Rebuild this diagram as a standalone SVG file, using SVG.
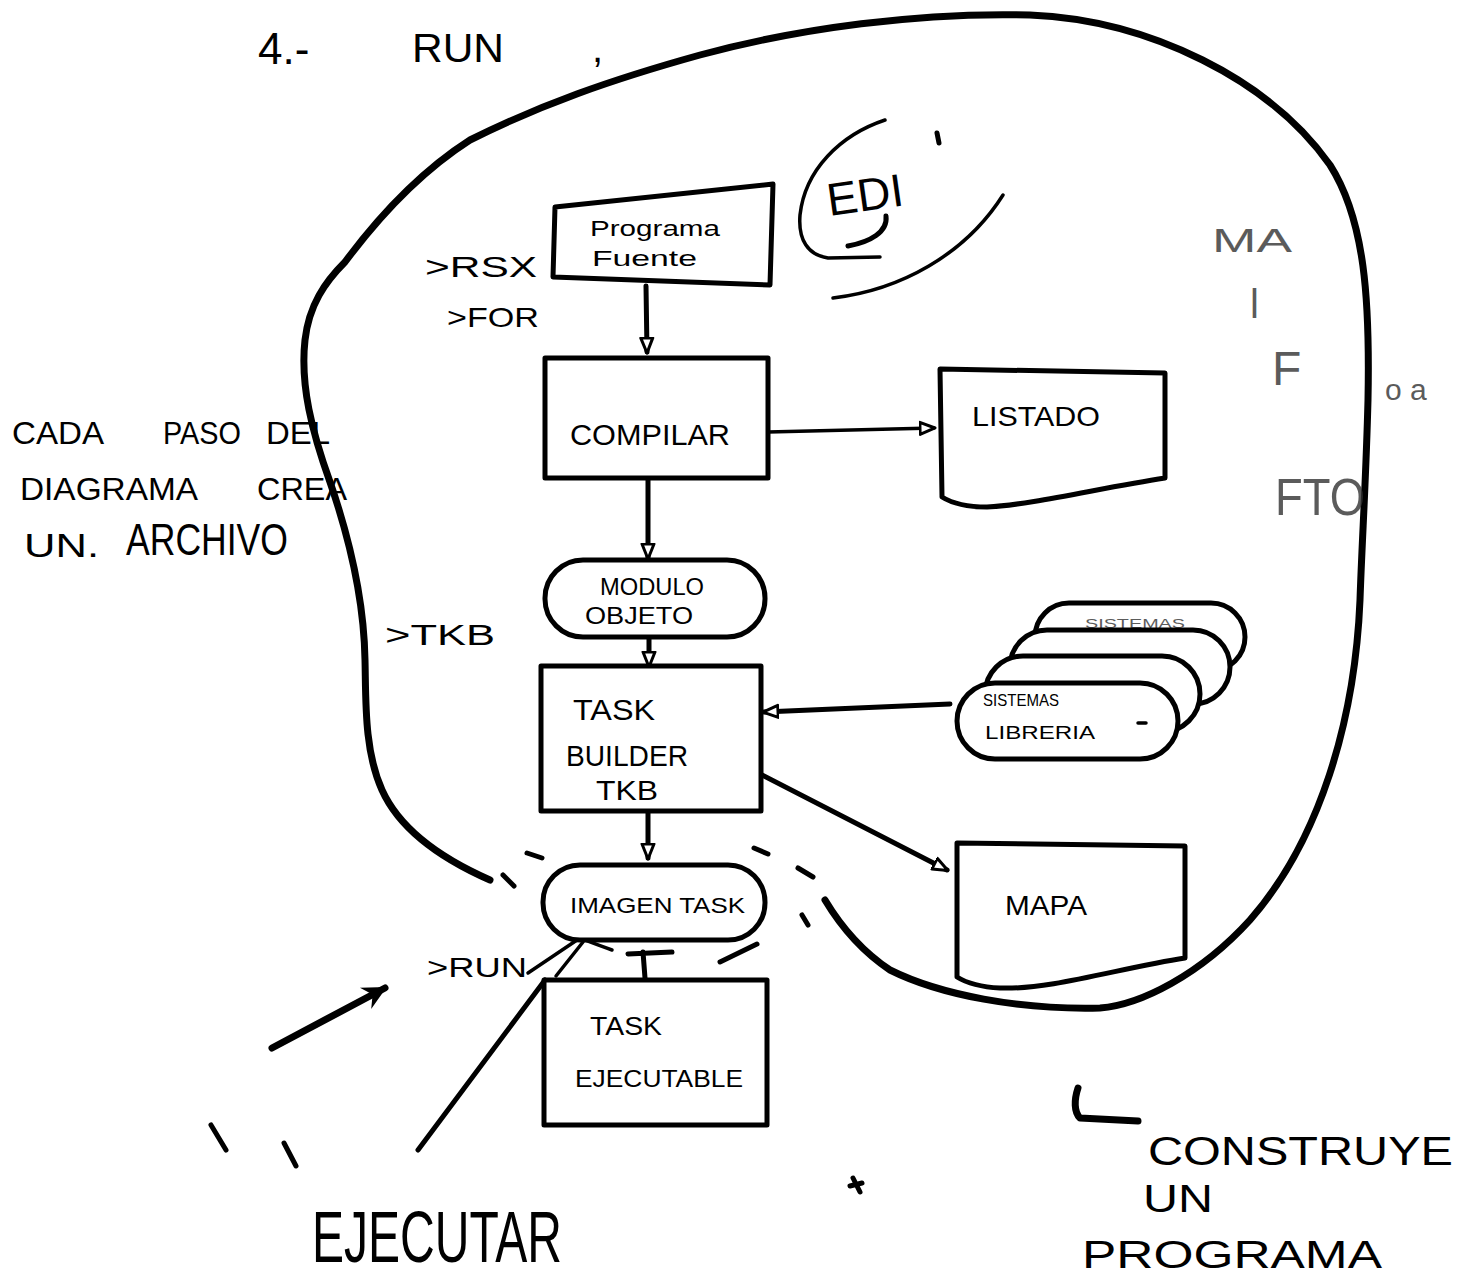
<svg xmlns="http://www.w3.org/2000/svg" width="1480" height="1282" viewBox="0 0 1480 1282">
  <style>
    .ln{fill:none;stroke:#000;stroke-width:5;stroke-linecap:round;stroke-linejoin:round}
    .thick{stroke-width:7}
    .thin{stroke-width:3.5}
    .box{fill:#fff;stroke:#000;stroke-width:5;stroke-linejoin:round}
    .t{font-family:"Liberation Sans",Arial,sans-serif;fill:#000}
    .faint{fill:#333;opacity:0.8}
  </style>
  <defs>
    <marker id="ah" markerUnits="userSpaceOnUse" markerWidth="18" markerHeight="16" refX="15" refY="8" orient="auto">
      <path d="M1,2 L16,8 L1,14 Z" fill="#fff" stroke="#000" stroke-width="3" stroke-linejoin="round"/>
    </marker>
    <marker id="ahf" markerUnits="userSpaceOnUse" markerWidth="30" markerHeight="28" refX="24" refY="14" orient="auto">
      <path d="M2,2 L26,14 L2,26 L10,14 Z" fill="#000"/>
    </marker>
  </defs>

  <!-- title -->
  <g id="title">
    <text class="t" x="258" y="64" font-size="44">4.-</text>
    <text class="t" x="412" y="62" font-size="40" textLength="92" lengthAdjust="spacingAndGlyphs">RUN</text>
    <text class="t" x="592" y="62" font-size="40">,</text>
  </g>

  <!-- big enclosing outline and the EDI ellipse -->
  <g id="outline">
    <path class="ln thick" d="M 490,880 C 440,858 400,830 382,790 C 364,750 366,700 365,660 C 364,600 350,540 330,482 C 312,432 300,385 305,340 C 309,305 325,282 345,262 C 380,215 420,172 470,140 C 540,105 610,80 700,55 C 800,28 920,12 1030,15 C 1150,20 1270,80 1330,165 C 1365,220 1370,300 1368,400 C 1366,480 1362,540 1360,600 C 1355,720 1320,840 1250,920 C 1200,975 1140,1005 1100,1008 C 1020,1010 940,995 890,970 C 860,950 840,925 825,900"/>
  </g>
  <g id="edi">
    <path class="ln thin" d="M 885,120 C 840,135 805,170 800,215 C 798,240 808,255 828,258 L 880,257"/>
    <path class="ln thin" d="M 833,298 C 900,290 965,255 1003,195"/>
    <path class="ln" d="M 937,133 L 939,143"/>
    <text class="t" x="826" y="210" font-size="46" transform="rotate(-8 870 190)">EDI</text>
    <path class="ln" d="M 848,246 C 870,242 888,232 886,216"/>
  </g>

  <!-- connectors -->
  <g id="connectors">
    <path class="ln" d="M 646,286 L 647,352" marker-end="url(#ah)"/>
    <path class="ln thin" d="M 768,432 L 934,428" marker-end="url(#ah)"/>
    <path class="ln" d="M 648,478 L 648,558" marker-end="url(#ah)"/>
    <path class="ln" d="M 649,638 L 649,666" marker-end="url(#ah)"/>
    <path class="ln" d="M 950,704 L 764,712" marker-end="url(#ah)"/>
    <path class="ln" d="M 762,775 L 947,870" marker-end="url(#ah)"/>
    <path class="ln" d="M 648,812 L 648,858" marker-end="url(#ah)"/>
    <path class="ln" d="M 645,978 L 643,952 M 628,954 L 672,952"/>
    <path class="ln thin" d="M 528,973 L 580,938 M 556,976 L 583,942"/>
    <path class="ln thin" d="M 577,937 C 590,942 600,946 612,950"/>
    <path class="ln" d="M 545,980 L 418,1150"/>
    <path class="ln thick" d="M 272,1048 L 385,988" marker-end="url(#ahf)"/>
    <!-- dashes around the task image -->
    <path class="ln" d="M 503,875 L 514,886"/>
    <path class="ln" d="M 527,853 L 542,858"/>
    <path class="ln" d="M 754,848 L 768,854"/>
    <path class="ln" d="M 798,868 L 813,877"/>
    <path class="ln" d="M 720,962 L 757,944"/>
    <path class="ln" d="M 802,915 L 808,925"/>
    <!-- ticks near the bottom -->
    <path class="ln" d="M 211,1125 L 226,1150"/>
    <path class="ln" d="M 284,1143 L 296,1166"/>
    <path class="ln" d="M 853,1178 L 860,1192 M 850,1186 L 862,1183"/>
    <path class="ln thick" d="M 1078,1088 C 1074,1100 1074,1112 1080,1118 L 1138,1121"/>
  </g>

  <!-- nodes -->
  <g id="n-fuente">
    <path class="box" d="M 555,207 L 773,184 L 770,285 L 553,277 Z"/>
    <text class="t" x="590" y="236" font-size="22" textLength="130" lengthAdjust="spacingAndGlyphs">Programa</text>
    <text class="t" x="592" y="266" font-size="22" textLength="105" lengthAdjust="spacingAndGlyphs">Fuente</text>
  </g>
  <g id="n-compilar">
    <rect class="box" x="545" y="358" width="223" height="120"/>
    <text class="t" x="570" y="445" font-size="30" textLength="160" lengthAdjust="spacingAndGlyphs">COMPILAR</text>
  </g>
  <g id="n-listado">
    <path class="box" d="M 940,369 L 1165,373 L 1165,478 C 1100,488 1030,505 987,507 C 965,507 950,502 942,497 Z"/>
    <text class="t" x="972" y="426" font-size="28" textLength="128" lengthAdjust="spacingAndGlyphs">LISTADO</text>
  </g>
  <g id="n-modulo">
    <rect class="box" x="545" y="560" width="220" height="77" rx="38"/>
    <text class="t" x="600" y="595" font-size="24" textLength="104" lengthAdjust="spacingAndGlyphs">MODULO</text>
    <text class="t" x="585" y="624" font-size="24" textLength="108" lengthAdjust="spacingAndGlyphs">OBJETO</text>
  </g>
  <g id="n-tkb">
    <rect class="box" x="541" y="666" width="220" height="145"/>
    <text class="t" x="573" y="720" font-size="30" textLength="82" lengthAdjust="spacingAndGlyphs">TASK</text>
    <text class="t" x="566" y="766" font-size="30" textLength="122" lengthAdjust="spacingAndGlyphs">BUILDER</text>
    <text class="t" x="596" y="800" font-size="28" textLength="62" lengthAdjust="spacingAndGlyphs">TKB</text>
  </g>
  <g id="n-librerias">
    <rect class="box" x="1035" y="603" width="210" height="68" rx="34"/>
    <text class="t faint" x="1085" y="628" font-size="12" textLength="100" lengthAdjust="spacingAndGlyphs">SISTEMAS</text>
    <rect class="box" x="1010" y="630" width="220" height="74" rx="37"/>
    <rect class="box" x="985" y="656" width="215" height="76" rx="38"/>
    <rect class="box" x="957" y="683" width="221" height="76" rx="38"/>
    <text class="t" x="983" y="706" font-size="17" textLength="76" lengthAdjust="spacingAndGlyphs">SISTEMAS</text>
    <text class="t" x="985" y="739" font-size="18" textLength="110" lengthAdjust="spacingAndGlyphs">LIBRERIA</text>
    <path class="ln thin" d="M 1138,723 L 1146,723"/>
  </g>
  <g id="n-mapa">
    <path class="box" d="M 957,843 L 1185,846 L 1185,958 C 1120,968 1050,990 1000,988 C 980,987 965,982 957,977 Z"/>
    <text class="t" x="1005" y="915" font-size="28" textLength="82" lengthAdjust="spacingAndGlyphs">MAPA</text>
  </g>
  <g id="n-imagen">
    <rect class="box" x="543" y="865" width="222" height="75" rx="37"/>
    <text class="t" x="570" y="913" font-size="22" textLength="175" lengthAdjust="spacingAndGlyphs">IMAGEN TASK</text>
  </g>
  <g id="n-ejecutable">
    <rect class="box" x="544" y="980" width="223" height="145"/>
    <text class="t" x="590" y="1035" font-size="26" textLength="72" lengthAdjust="spacingAndGlyphs">TASK</text>
    <text class="t" x="575" y="1087" font-size="24" textLength="168" lengthAdjust="spacingAndGlyphs">EJECUTABLE</text>
  </g>

  <!-- command labels -->
  <g id="commands">
    <text class="t" x="425" y="277" font-size="30" textLength="112" lengthAdjust="spacingAndGlyphs">&gt;RSX</text>
    <text class="t" x="447" y="327" font-size="28" textLength="92" lengthAdjust="spacingAndGlyphs">&gt;FOR</text>
    <text class="t" x="385" y="645" font-size="30" textLength="110" lengthAdjust="spacingAndGlyphs">&gt;TKB</text>
    <text class="t" x="427" y="977" font-size="28" textLength="100" lengthAdjust="spacingAndGlyphs">&gt;RUN</text>
  </g>

  <!-- notes -->
  <g id="notes">
    <text class="t" x="12" y="444" font-size="32" textLength="92" lengthAdjust="spacingAndGlyphs">CADA</text>
    <text class="t" x="163" y="444" font-size="32" textLength="78" lengthAdjust="spacingAndGlyphs">PASO</text>
    <text class="t" x="266" y="444" font-size="32" textLength="64" lengthAdjust="spacingAndGlyphs">DEL</text>
    <text class="t" x="20" y="500" font-size="32" textLength="178" lengthAdjust="spacingAndGlyphs">DIAGRAMA</text>
    <text class="t" x="257" y="500" font-size="32" textLength="90" lengthAdjust="spacingAndGlyphs">CREA</text>
    <text class="t" x="24" y="557" font-size="34" textLength="75" lengthAdjust="spacingAndGlyphs">UN.</text>
    <text class="t" x="126" y="555" font-size="44" textLength="162" lengthAdjust="spacingAndGlyphs">ARCHIVO</text>
    <text class="t faint" x="1212" y="252" font-size="34" textLength="80" lengthAdjust="spacingAndGlyphs">MA</text>
    <text class="t faint" x="1250" y="318" font-size="40">l</text>
    <text class="t faint" x="1272" y="385" font-size="48">F</text>
    <text class="t faint" x="1385" y="400" font-size="30">o a</text>
    <text class="t faint" x="1275" y="515" font-size="52" textLength="90" lengthAdjust="spacingAndGlyphs">FTO</text>
    <text class="t" x="312" y="1262" font-size="72" textLength="250" lengthAdjust="spacingAndGlyphs">EJECUTAR</text>
    <text class="t" x="1148" y="1165" font-size="40" textLength="305" lengthAdjust="spacingAndGlyphs">CONSTRUYE</text>
    <text class="t" x="1143" y="1212" font-size="38" textLength="70" lengthAdjust="spacingAndGlyphs">UN</text>
    <text class="t" x="1082" y="1268" font-size="38" textLength="300" lengthAdjust="spacingAndGlyphs">PROGRAMA</text>
  </g>
</svg>
